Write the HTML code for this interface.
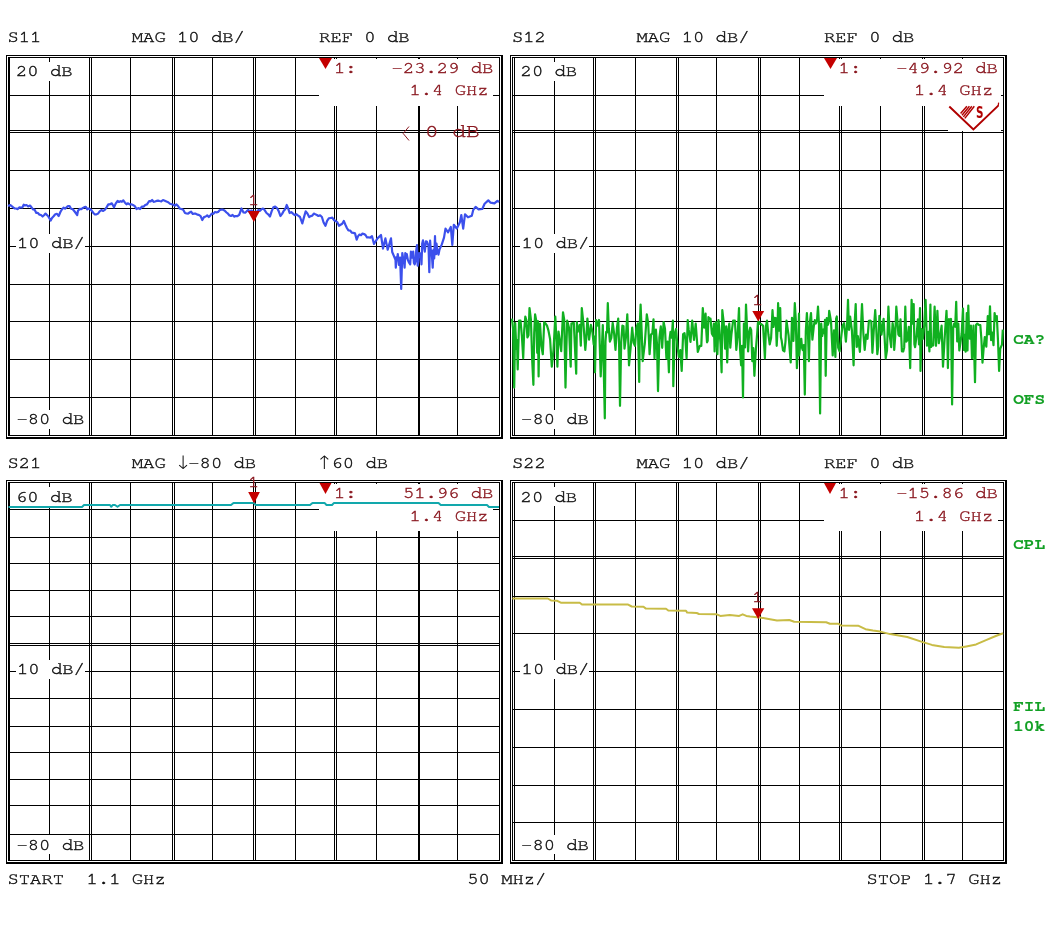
<!DOCTYPE html>
<html><head><meta charset="utf-8"><title>S-parameter display</title>
<style>
html,body{margin:0;padding:0;background:#fff;width:1058px;height:932px;overflow:hidden}
svg{display:block}
svg text{font-family:FreeMono, 'Liberation Mono', 'Courier New', monospace;white-space:pre}
</style></head><body>
<svg width="1058" height="932" viewBox="0 0 1058 932">
<rect x="0" y="0" width="1058" height="932" fill="#fff"/>
<g shape-rendering="crispEdges">
<rect x="6" y="55" width="497" height="1" fill="#000"/>
<rect x="6" y="55" width="1" height="384" fill="#000"/>
<rect x="501" y="55" width="2" height="384" fill="#000"/>
<rect x="6" y="437" width="497" height="2" fill="#000"/>
<rect x="8" y="57" width="492" height="1" fill="#000"/>
<rect x="8" y="57" width="2" height="379" fill="#000"/>
<rect x="499" y="57" width="1" height="379" fill="#000"/>
<rect x="8" y="435" width="492" height="1" fill="#000"/>
<rect x="49" y="57" width="1" height="378" fill="#000"/>
<rect x="89" y="57" width="1" height="378" fill="#000"/>
<rect x="91" y="57" width="1" height="378" fill="#000"/>
<rect x="130" y="57" width="1" height="378" fill="#000"/>
<rect x="172" y="57" width="1" height="378" fill="#000"/>
<rect x="174" y="57" width="1" height="378" fill="#000"/>
<rect x="212" y="57" width="1" height="378" fill="#000"/>
<rect x="253" y="57" width="1" height="378" fill="#000"/>
<rect x="255" y="57" width="1" height="378" fill="#000"/>
<rect x="295" y="57" width="1" height="378" fill="#000"/>
<rect x="334" y="57" width="1" height="378" fill="#000"/>
<rect x="336" y="57" width="1" height="378" fill="#000"/>
<rect x="376" y="57" width="1" height="378" fill="#000"/>
<rect x="418" y="57" width="1" height="378" fill="#000"/>
<rect x="419" y="57" width="1" height="378" fill="#000"/>
<rect x="457" y="57" width="1" height="378" fill="#000"/>
<rect x="8" y="95" width="491" height="1" fill="#000"/>
<rect x="8" y="130" width="491" height="1" fill="#000"/>
<rect x="8" y="132" width="491" height="1" fill="#000"/>
<rect x="8" y="170" width="491" height="1" fill="#000"/>
<rect x="8" y="208" width="491" height="1" fill="#000"/>
<rect x="8" y="246" width="491" height="1" fill="#000"/>
<rect x="8" y="284" width="491" height="1" fill="#000"/>
<rect x="8" y="321" width="491" height="1" fill="#000"/>
<rect x="8" y="359" width="491" height="1" fill="#000"/>
<rect x="8" y="397" width="491" height="1" fill="#000"/>
<rect x="510" y="55" width="497" height="1" fill="#000"/>
<rect x="510" y="55" width="1" height="384" fill="#000"/>
<rect x="1005" y="55" width="2" height="384" fill="#000"/>
<rect x="510" y="437" width="497" height="2" fill="#000"/>
<rect x="512" y="57" width="492" height="1" fill="#000"/>
<rect x="512" y="57" width="1" height="379" fill="#000"/>
<rect x="1003" y="57" width="1" height="379" fill="#000"/>
<rect x="512" y="435" width="492" height="1" fill="#000"/>
<rect x="514" y="57" width="1" height="378" fill="#000"/>
<rect x="554" y="57" width="1" height="378" fill="#000"/>
<rect x="593" y="57" width="1" height="378" fill="#000"/>
<rect x="595" y="57" width="1" height="378" fill="#000"/>
<rect x="635" y="57" width="1" height="378" fill="#000"/>
<rect x="676" y="57" width="1" height="378" fill="#000"/>
<rect x="678" y="57" width="1" height="378" fill="#000"/>
<rect x="716" y="57" width="1" height="378" fill="#000"/>
<rect x="758" y="57" width="1" height="378" fill="#000"/>
<rect x="760" y="57" width="1" height="378" fill="#000"/>
<rect x="799" y="57" width="1" height="378" fill="#000"/>
<rect x="839" y="57" width="1" height="378" fill="#000"/>
<rect x="841" y="57" width="1" height="378" fill="#000"/>
<rect x="880" y="57" width="1" height="378" fill="#000"/>
<rect x="922" y="57" width="1" height="378" fill="#000"/>
<rect x="924" y="57" width="1" height="378" fill="#000"/>
<rect x="962" y="57" width="1" height="378" fill="#000"/>
<rect x="512" y="95" width="491" height="1" fill="#000"/>
<rect x="512" y="130" width="491" height="1" fill="#000"/>
<rect x="512" y="132" width="491" height="1" fill="#000"/>
<rect x="512" y="170" width="491" height="1" fill="#000"/>
<rect x="512" y="208" width="491" height="1" fill="#000"/>
<rect x="512" y="246" width="491" height="1" fill="#000"/>
<rect x="512" y="284" width="491" height="1" fill="#000"/>
<rect x="512" y="321" width="491" height="1" fill="#000"/>
<rect x="512" y="359" width="491" height="1" fill="#000"/>
<rect x="512" y="397" width="491" height="1" fill="#000"/>
<rect x="6" y="480" width="497" height="1" fill="#000"/>
<rect x="6" y="480" width="1" height="384" fill="#000"/>
<rect x="501" y="480" width="2" height="384" fill="#000"/>
<rect x="6" y="862" width="497" height="2" fill="#000"/>
<rect x="8" y="482" width="492" height="1" fill="#000"/>
<rect x="8" y="482" width="2" height="379" fill="#000"/>
<rect x="499" y="482" width="1" height="379" fill="#000"/>
<rect x="8" y="860" width="492" height="1" fill="#000"/>
<rect x="49" y="482" width="1" height="378" fill="#000"/>
<rect x="89" y="482" width="1" height="378" fill="#000"/>
<rect x="91" y="482" width="1" height="378" fill="#000"/>
<rect x="130" y="482" width="1" height="378" fill="#000"/>
<rect x="172" y="482" width="1" height="378" fill="#000"/>
<rect x="174" y="482" width="1" height="378" fill="#000"/>
<rect x="212" y="482" width="1" height="378" fill="#000"/>
<rect x="253" y="482" width="1" height="378" fill="#000"/>
<rect x="255" y="482" width="1" height="378" fill="#000"/>
<rect x="295" y="482" width="1" height="378" fill="#000"/>
<rect x="334" y="482" width="1" height="378" fill="#000"/>
<rect x="336" y="482" width="1" height="378" fill="#000"/>
<rect x="376" y="482" width="1" height="378" fill="#000"/>
<rect x="418" y="482" width="1" height="378" fill="#000"/>
<rect x="419" y="482" width="1" height="378" fill="#000"/>
<rect x="457" y="482" width="1" height="378" fill="#000"/>
<rect x="8" y="509" width="491" height="1" fill="#000"/>
<rect x="8" y="537" width="491" height="1" fill="#000"/>
<rect x="8" y="563" width="491" height="1" fill="#000"/>
<rect x="8" y="590" width="491" height="1" fill="#000"/>
<rect x="8" y="616" width="491" height="1" fill="#000"/>
<rect x="8" y="643" width="491" height="1" fill="#000"/>
<rect x="8" y="645" width="491" height="1" fill="#000"/>
<rect x="8" y="671" width="491" height="1" fill="#000"/>
<rect x="8" y="698" width="491" height="1" fill="#000"/>
<rect x="8" y="726" width="491" height="1" fill="#000"/>
<rect x="8" y="752" width="491" height="1" fill="#000"/>
<rect x="8" y="779" width="491" height="1" fill="#000"/>
<rect x="8" y="805" width="491" height="1" fill="#000"/>
<rect x="8" y="834" width="491" height="1" fill="#000"/>
<rect x="510" y="480" width="497" height="1" fill="#000"/>
<rect x="510" y="480" width="1" height="384" fill="#000"/>
<rect x="1005" y="480" width="2" height="384" fill="#000"/>
<rect x="510" y="862" width="497" height="2" fill="#000"/>
<rect x="512" y="482" width="492" height="1" fill="#000"/>
<rect x="512" y="482" width="1" height="379" fill="#000"/>
<rect x="1003" y="482" width="1" height="379" fill="#000"/>
<rect x="512" y="860" width="492" height="1" fill="#000"/>
<rect x="514" y="482" width="1" height="378" fill="#000"/>
<rect x="554" y="482" width="1" height="378" fill="#000"/>
<rect x="593" y="482" width="1" height="378" fill="#000"/>
<rect x="595" y="482" width="1" height="378" fill="#000"/>
<rect x="635" y="482" width="1" height="378" fill="#000"/>
<rect x="676" y="482" width="1" height="378" fill="#000"/>
<rect x="678" y="482" width="1" height="378" fill="#000"/>
<rect x="716" y="482" width="1" height="378" fill="#000"/>
<rect x="758" y="482" width="1" height="378" fill="#000"/>
<rect x="760" y="482" width="1" height="378" fill="#000"/>
<rect x="799" y="482" width="1" height="378" fill="#000"/>
<rect x="839" y="482" width="1" height="378" fill="#000"/>
<rect x="841" y="482" width="1" height="378" fill="#000"/>
<rect x="880" y="482" width="1" height="378" fill="#000"/>
<rect x="922" y="482" width="1" height="378" fill="#000"/>
<rect x="924" y="482" width="1" height="378" fill="#000"/>
<rect x="962" y="482" width="1" height="378" fill="#000"/>
<rect x="512" y="520" width="491" height="1" fill="#000"/>
<rect x="512" y="556" width="491" height="1" fill="#000"/>
<rect x="512" y="558" width="491" height="1" fill="#000"/>
<rect x="512" y="596" width="491" height="1" fill="#000"/>
<rect x="512" y="633" width="491" height="1" fill="#000"/>
<rect x="512" y="671" width="491" height="1" fill="#000"/>
<rect x="512" y="709" width="491" height="1" fill="#000"/>
<rect x="512" y="747" width="491" height="1" fill="#000"/>
<rect x="512" y="785" width="491" height="1" fill="#000"/>
<rect x="512" y="822" width="491" height="1" fill="#000"/>
<rect x="12" y="62" width="74" height="19" fill="#fff"/>
<rect x="16" y="234" width="69" height="19" fill="#fff"/>
<rect x="13" y="410" width="73" height="19" fill="#fff"/>
<rect x="319" y="59" width="174" height="47" fill="#fff"/>
<rect x="12" y="487" width="74" height="19" fill="#fff"/>
<rect x="16" y="660" width="69" height="19" fill="#fff"/>
<rect x="13" y="835" width="73" height="19" fill="#fff"/>
<rect x="319" y="484" width="174" height="47" fill="#fff"/>
<rect x="516" y="62" width="74" height="19" fill="#fff"/>
<rect x="520" y="234" width="69" height="19" fill="#fff"/>
<rect x="517" y="410" width="73" height="19" fill="#fff"/>
<rect x="824" y="59" width="174" height="47" fill="#fff"/>
<rect x="516" y="487" width="74" height="19" fill="#fff"/>
<rect x="520" y="660" width="69" height="19" fill="#fff"/>
<rect x="517" y="835" width="73" height="19" fill="#fff"/>
<rect x="824" y="484" width="174" height="47" fill="#fff"/>
<rect x="948" y="59" width="53" height="72" fill="#fff"/>
</g>
<g>
<polyline points="8.0,206.0 10.3,205.0 11.7,206.2 13.2,207.4 14.6,208.4 16.0,208.5 17.8,209.1 19.5,207.3 20.9,207.5 22.3,207.5 23.7,204.7 25.1,205.4 26.5,205.0 28.2,206.5 30.0,205.6 31.5,207.3 33.0,209.3 34.5,209.6 36.3,213.0 37.9,212.9 39.5,214.7 41.0,215.0 42.6,216.5 44.0,215.2 45.5,213.6 48.0,216.0 50.7,220.5 52.0,218.0 53.6,216.3 55.3,214.2 57.0,213.8 58.7,216.0 60.5,211.8 62.2,209.0 63.7,207.7 65.1,208.6 66.5,207.4 68.0,206.0 69.5,206.1 71.1,208.8 72.6,209.0 75.0,212.0 77.2,215.0 78.0,210.8 79.7,208.9 81.3,209.2 83.0,207.9 84.4,207.1 85.8,206.9 87.3,209.3 88.7,208.5 90.3,209.2 91.8,210.8 93.4,213.0 94.9,214.5 96.5,214.4 98.0,213.6 99.7,211.3 101.4,210.0 103.2,211.0 105.0,209.6 106.7,207.1 108.3,204.4 110.0,204.3 111.8,203.3 114.0,207.3 115.8,203.4 117.6,201.0 119.0,202.0 120.4,201.2 121.9,201.8 123.3,200.4 125.0,202.7 126.5,204.3 128.1,203.3 129.6,204.4 131.3,204.3 133.0,205.0 134.8,206.1 136.5,209.0 138.2,208.1 140.0,209.0 141.8,206.7 143.5,206.7 145.2,205.0 147.0,204.4 149.2,201.0 150.6,201.4 152.1,200.0 153.6,201.8 155.0,201.5 156.5,200.9 158.1,200.7 159.6,201.0 161.3,201.3 163.0,200.0 164.8,200.7 166.5,201.5 168.2,202.2 170.0,203.8 171.7,204.3 173.4,204.8 174.9,205.7 176.5,204.4 178.0,206.0 179.8,208.7 181.5,209.0 183.2,209.8 185.0,213.0 186.5,213.5 188.1,213.6 189.6,212.5 191.1,211.6 192.7,214.0 194.2,213.6 195.7,213.7 197.3,214.6 198.8,214.8 200.6,216.1 202.3,220.0 204.0,217.1 205.7,216.5 207.2,215.3 208.8,217.0 210.3,215.4 211.9,213.5 213.4,213.8 215.0,212.0 216.5,212.5 218.1,211.9 219.6,210.2 221.3,209.5 223.0,209.6 224.8,210.7 226.5,212.5 228.0,213.7 229.5,215.5 231.0,216.0 232.6,215.0 234.1,216.6 235.7,216.0 237.4,216.2 239.2,214.8 241.5,208.5 243.5,212.5 245.2,212.7 247.0,211.0 248.4,210.0 249.8,212.6 251.2,210.5 252.6,211.4 254.0,212.0 255.5,211.7 257.0,211.9 258.5,209.8 260.0,210.8 261.5,209.2 263.0,208.5 264.8,210.3 266.5,213.0 268.2,214.3 270.0,216.5 271.7,211.1 273.4,207.3 275.2,206.6 277.0,208.0 278.7,211.1 280.4,216.0 282.1,213.9 283.8,210.8 285.2,209.2 286.7,205.0 288.1,208.1 289.6,213.0 291.3,212.1 293.0,213.6 294.8,215.2 296.5,214.2 298.2,215.7 300.0,217.0 302.3,223.4 304.0,217.1 305.7,211.3 307.4,213.5 309.2,217.0 310.7,216.1 312.3,215.6 313.8,213.6 315.3,214.3 316.9,215.0 318.4,216.0 320.1,215.3 321.9,217.0 323.6,222.5 325.4,225.8 327.1,220.8 328.8,218.3 330.6,218.0 332.3,217.7 334.0,220.2 335.7,221.0 337.4,222.4 339.0,225.8 340.6,224.8 342.2,223.8 343.8,221.0 345.3,224.5 346.9,228.0 348.4,230.4 350.1,230.5 351.9,232.7 353.4,232.9 355.0,233.4 356.7,239.6 358.1,236.1 359.5,234.5 361.0,235.2 362.5,233.6 364.0,234.0 365.5,235.0 367.0,237.5 368.5,237.3 370.2,237.7 372.0,236.2 374.0,244.0 377.5,238.4 381.0,235.0 383.0,248.6 385.4,238.4 387.7,249.7 391.0,238.4 392.2,252.0 395.5,259.8 395.8,267.7 396.5,257.2 397.1,259.0 397.8,254.0 398.9,264.8 400.1,257.5 401.2,289.0 402.3,253.0 403.1,258.1 403.8,259.4 404.6,267.7 405.3,253.0 406.1,258.2 406.8,254.2 407.9,260.1 409.1,262.7 410.2,264.3 410.9,251.5 411.7,254.9 412.4,257.6 413.2,251.5 413.9,263.0 414.7,264.3 415.5,261.1 416.2,250.7 417.0,245.2 417.7,265.7 418.5,261.2 419.2,253.0 420.0,254.4 420.7,253.5 421.5,264.3 422.2,243.5 423.0,240.3 423.7,245.2 424.8,251.6 425.9,241.3 427.0,241.8 427.8,244.2 428.5,245.3 429.3,272.2 430.1,240.7 430.8,250.2 431.6,250.8 432.7,267.7 433.5,249.7 434.2,258.5 435.0,236.2 435.5,251.4 436.0,254.1 436.5,243.6 437.5,251.0 438.5,254.6 439.5,249.6 441.8,244.4 444.0,237.6 445.5,228.6 448.1,232.3 450.8,227.0 452.3,245.0 453.8,224.8 456.8,228.6 459.8,222.6 461.3,215.0 463.2,228.6 465.0,214.3 468.0,217.3 471.8,215.8 473.3,209.8 475.6,206.8 478.6,209.4 482.3,209.0 484.6,203.8 488.3,200.4 490.6,202.7 494.4,203.4 497.4,200.8 499.0,202.0" fill="none" stroke="#3c50ec" stroke-width="2.2" stroke-linejoin="round"/>
<polyline points="512.0,318.6 513.1,329.0 514.2,387.6 515.2,323.1 516.3,348.6 517.0,340.1 517.7,369.5 519.1,320.5 520.5,320.7 521.9,336.2 523.2,358.3 524.2,330.4 525.3,316.5 526.3,320.0 527.4,337.4 528.5,335.3 529.5,308.0 530.9,319.3 532.3,362.5 533.4,384.8 534.2,332.7 535.1,314.4 536.2,320.4 537.2,352.8 537.9,321.1 538.6,376.5 539.3,332.4 540.0,323.5 541.4,346.1 542.8,354.2 544.2,322.2 545.6,323.5 547.0,325.6 548.4,330.4 550.1,339.3 551.8,366.7 553.5,350.2 555.3,316.5 556.3,337.6 557.4,366.7 558.5,331.5 559.5,338.8 561.2,351.2 563.0,312.3 564.2,319.6 565.5,387.6 566.4,347.2 567.2,320.7 569.0,327.8 570.7,366.7 571.4,323.5 573.8,322.9 576.2,373.7 576.9,322.0 577.6,331.8 578.7,328.5 579.7,324.9 580.8,345.7 581.8,308.1 583.5,324.1 585.3,350.0 586.3,337.8 587.4,318.6 589.1,339.7 590.9,324.9 592.3,330.7 593.7,344.4 594.4,336.6 595.0,372.3 596.1,320.1 597.2,325.6 599.0,320.0 600.7,376.5 602.8,325.0 604.8,418.3 605.5,341.1 606.2,331.8 607.0,332.5 607.8,303.2 608.8,328.7 609.9,341.6 611.3,337.9 612.7,322.8 614.1,333.4 615.5,350.0 616.9,328.2 618.2,318.6 619.1,345.0 620.0,405.8 621.2,341.8 622.4,325.6 623.5,326.3 624.5,348.6 625.9,337.5 627.3,314.4 628.1,335.9 629.0,365.3 630.6,347.8 632.2,327.7 633.6,342.8 635.0,345.8 636.4,327.8 637.8,323.5 638.5,351.3 639.2,382.0 639.9,322.0 640.6,304.6 641.7,332.2 642.7,361.1 644.8,343.7 646.8,314.4 648.2,323.2 649.6,354.2 651.0,334.6 652.4,333.2 653.5,319.3 654.5,358.3 655.2,340.7 655.9,329.7 657.0,344.0 658.0,391.1 659.4,337.5 660.8,326.3 662.2,347.8 663.6,322.0 665.0,328.7 666.4,358.3 667.6,341.6 668.9,372.3 669.7,338.2 670.5,331.8 671.7,337.7 672.9,320.7 673.3,386.2 674.7,333.5 676.1,329.0 677.5,346.6 678.9,357.0 680.3,350.1 681.7,370.9 683.1,334.1 684.5,333.2 685.5,340.6 686.6,358.3 687.7,320.1 688.7,329.7 690.5,341.9 692.2,320.7 694.0,340.0 695.7,323.5 697.8,351.8 699.8,345.8 701.3,345.9 702.8,308.1 704.2,327.7 705.6,313.7 706.3,331.1 707.0,342.3 707.7,340.7 708.4,317.2 709.5,318.8 710.5,318.6 711.9,333.7 713.2,336.0 713.9,323.7 714.6,351.4 716.0,322.0 717.4,354.2 718.5,320.0 719.5,330.4 720.5,344.1 721.6,372.3 722.3,310.2 723.7,322.4 725.1,348.6 726.2,326.4 727.2,362.5 728.2,331.3 729.3,323.5 730.3,347.6 731.4,334.6 733.1,320.7 734.9,320.7 735.6,333.3 736.3,350.0 737.6,336.7 739.0,308.1 740.0,348.0 741.1,365.3 742.0,345.9 743.0,397.4 743.9,323.5 745.0,347.4 746.0,304.6 747.0,327.5 748.1,351.4 749.2,332.1 750.2,327.7 751.2,330.2 752.3,361.1 753.3,348.1 754.4,375.8 755.8,350.6 757.2,333.2 757.9,323.1 758.6,321.4 760.0,324.0 761.4,324.2 763.1,325.9 764.9,358.3 766.0,325.9 767.0,320.7 768.4,334.5 769.7,344.4 771.1,338.0 772.5,310.2 773.5,326.9 774.6,317.9 775.7,318.1 776.7,345.8 777.4,332.2 778.1,303.2 779.2,330.6 780.2,308.1 780.9,337.3 781.6,340.2 783.0,350.4 784.4,351.4 785.5,341.5 786.5,320.7 788.6,335.5 790.7,362.5 791.4,339.0 792.0,317.9 793.4,341.0 794.8,303.2 795.8,319.8 796.9,368.1 798.0,348.6 799.0,313.7 799.2,355.5 800.2,344.5 801.3,338.8 802.0,347.7 802.7,350.0 803.8,345.1 804.8,394.6 805.8,331.3 806.9,313.0 807.9,331.6 808.9,361.1 810.0,321.5 811.0,313.0 812.4,339.6 813.8,326.3 814.8,320.1 815.9,323.5 817.0,320.3 818.0,306.7 819.0,325.1 820.1,413.4 821.2,323.5 822.2,336.0 823.2,329.6 824.3,333.2 825.0,319.8 825.7,375.8 826.8,318.0 827.8,324.9 828.5,323.1 829.2,310.9 831.0,321.4 832.7,355.5 834.0,330.4 835.4,357.0 836.1,318.9 836.8,316.5 838.2,347.7 839.6,351.4 841.0,338.9 842.4,326.3 844.1,323.1 845.9,341.6 847.0,326.6 848.0,299.8 849.0,329.8 850.1,316.5 851.9,330.4 853.6,365.3 854.7,322.2 855.7,304.0 856.8,346.9 857.8,336.0 859.9,351.8 862.0,304.0 863.4,333.8 864.7,350.0 866.1,334.5 867.5,338.8 868.9,320.9 870.3,320.7 871.3,321.5 872.4,352.8 873.8,329.6 875.2,310.2 876.2,327.0 877.3,354.2 878.3,346.2 879.4,315.8 880.5,323.5 881.5,334.6 883.6,318.8 885.7,358.3 887.0,350.3 888.4,306.7 889.8,336.0 891.2,347.2 892.6,323.0 894.0,333.2 894.2,350.0 895.2,336.5 896.3,306.7 897.3,318.9 898.4,334.6 899.5,336.0 900.5,319.3 901.9,351.3 903.2,351.4 904.2,347.4 905.3,306.7 906.3,341.7 907.4,340.2 908.8,326.9 910.2,368.1 910.9,330.5 911.6,299.8 912.7,323.7 913.7,304.0 914.4,344.2 915.1,347.2 916.5,336.1 917.9,319.3 919.0,344.5 920.0,308.1 920.5,370.9 921.6,329.2 922.8,338.8 924.2,325.6 925.6,299.8 927.0,345.6 928.4,331.8 929.4,351.5 930.4,304.6 931.1,347.0 931.8,345.8 933.2,345.4 934.6,306.7 936.0,345.8 937.4,310.9 938.8,343.2 940.2,336.0 941.6,325.7 943.0,366.7 944.8,335.6 946.5,310.9 947.2,330.1 947.9,368.1 949.0,319.0 950.0,320.7 951.0,318.9 952.1,404.4 953.2,327.5 954.2,323.5 955.2,326.8 956.2,301.9 957.2,341.5 958.3,323.5 959.3,350.5 960.4,343.0 961.7,333.2 963.0,308.6 963.8,349.9 964.5,334.6 965.6,351.6 966.8,313.0 967.5,350.5 968.3,305.6 969.0,330.4 969.8,338.6 970.9,325.5 972.0,358.2 973.5,325.7 975.0,382.2 976.1,324.7 977.3,323.6 978.8,324.9 980.3,325.1 981.4,339.2 982.5,362.7 983.6,348.6 984.8,337.1 986.3,346.6 987.8,316.1 988.9,334.3 990.0,306.3 991.1,340.2 992.3,332.6 993.5,345.2 994.6,313.0 995.7,320.9 996.8,316.1 998.0,340.5 999.1,370.9 1000.2,348.9 1001.3,346.1 1002.0,344.6 1002.8,329.6" fill="none" stroke="#10b020" stroke-width="2.2" stroke-linejoin="round"/>
<polyline points="8.5,506.9 82.0,506.9 84.0,505.0 110.0,505.0 111.3,506.8 112.6,505.0 115.0,505.0 117.5,506.8 120.0,505.0 231.0,505.0 233.5,502.9 254.0,502.9 255.5,505.0 310.0,505.0 312.5,502.9 324.5,502.9 326.5,505.0 332.0,505.0 334.0,502.9 438.5,502.9 440.8,505.0 487.0,505.0 489.0,507.0 499.0,507.0" fill="none" stroke="#12a8ac" stroke-width="2" stroke-linejoin="round"/>
<polyline points="512.4,598.5 547.8,598.5 551.4,600.6 557.3,600.8 560.8,602.7 579.7,602.7 582.0,604.6 628.1,604.6 631.7,606.5 643.5,606.7 645.9,608.6 666.0,608.8 668.3,610.5 686.0,610.7 687.2,612.6 696.7,613.0 699.0,614.0 716.8,614.3 720.3,615.9 729.8,615.0 739.2,615.9 742.7,614.3 746.3,615.9 750.0,616.4 759.8,617.4 767.2,618.8 777.0,620.6 789.3,620.0 794.2,621.8 826.2,622.3 829.9,623.7 838.5,623.7 841.0,625.5 858.1,625.7 865.5,629.2 872.9,630.6 880.3,631.6 890.1,634.1 907.3,637.0 922.0,641.9 931.9,644.9 944.2,647.1 958.9,647.8 966.3,646.4 976.1,644.4 986.0,640.2 995.8,636.0 1003.1,633.3" fill="none" stroke="#c8bc46" stroke-width="2" stroke-linejoin="round"/>
</g>
<g>
<polygon points="247.7,211 259.9,211 253.79999999999998,222" fill="#c40000"/>
<polygon points="752.3,311 764.2,311 758.25,321.5" fill="#c40000"/>
<polygon points="248.2,492 259.9,492 254.04999999999998,503.6" fill="#c40000"/>
<polygon points="752,608.3 764.3,608.3 758.15,619" fill="#c40000"/>
<polygon points="319,58 332,58 325.5,69" fill="#c40000"/>
<polygon points="824,58 837,58 830.5,69" fill="#c40000"/>
<polygon points="319.5,483 331.5,483 325.5,494" fill="#c40000"/>
<polygon points="824,483 836,483 830.0,494" fill="#c40000"/>
<text x="248" y="205" font-size="16" fill="#8a1820" stroke="#8a1820" stroke-width="0.4" textLength="11.3" lengthAdjust="spacingAndGlyphs">1</text>
<text x="752" y="305" font-size="16" fill="#8a1820" stroke="#8a1820" stroke-width="0.4" textLength="11.3" lengthAdjust="spacingAndGlyphs">1</text>
<text x="248" y="487" font-size="16" fill="#8a1820" stroke="#8a1820" stroke-width="0.4" textLength="11.3" lengthAdjust="spacingAndGlyphs">1</text>
<text x="752" y="601.7" font-size="16" fill="#8a1820" stroke="#8a1820" stroke-width="0.4" textLength="11.3" lengthAdjust="spacingAndGlyphs">1</text>
</g>
<g>
<text x="7.5" y="42" font-size="16" fill="#111" stroke="#111" stroke-width="0.4" textLength="33.9" lengthAdjust="spacingAndGlyphs">S11</text>
<text x="131.8" y="42" font-size="16" fill="#111" stroke="#111" stroke-width="0.4" textLength="113.0" lengthAdjust="spacingAndGlyphs">MAG 10 dB/</text>
<text x="319.1" y="42" font-size="16" fill="#111" stroke="#111" stroke-width="0.4" textLength="90.4" lengthAdjust="spacingAndGlyphs">REF 0 dB</text>
<text x="512" y="42" font-size="16" fill="#111" stroke="#111" stroke-width="0.4" textLength="33.9" lengthAdjust="spacingAndGlyphs">S12</text>
<text x="636.5" y="42" font-size="16" fill="#111" stroke="#111" stroke-width="0.4" textLength="113.0" lengthAdjust="spacingAndGlyphs">MAG 10 dB/</text>
<text x="824" y="42" font-size="16" fill="#111" stroke="#111" stroke-width="0.4" textLength="90.4" lengthAdjust="spacingAndGlyphs">REF 0 dB</text>
<text x="174.6" y="468.5" font-size="18.5" font-weight="200" fill="#111" style="font-family:'DejaVu Sans', 'Liberation Sans', sans-serif" textLength="17.7" lengthAdjust="spacingAndGlyphs">↓</text>
<text x="315.8" y="468.6" font-size="18.5" font-weight="200" fill="#111" style="font-family:'DejaVu Sans', 'Liberation Sans', sans-serif" textLength="17.7" lengthAdjust="spacingAndGlyphs">↑</text>
<text x="7.5" y="468" font-size="16" fill="#111" stroke="#111" stroke-width="0.4" textLength="33.9" lengthAdjust="spacingAndGlyphs">S21</text>
<text x="131.8" y="468" font-size="16" fill="#111" stroke="#111" stroke-width="0.4" textLength="33.9" lengthAdjust="spacingAndGlyphs">MAG</text>
<text x="188.3" y="468" font-size="16" fill="#111" stroke="#111" stroke-width="0.4" textLength="67.8" lengthAdjust="spacingAndGlyphs">-80 dB</text>
<text x="331.5" y="468" font-size="16" fill="#111" stroke="#111" stroke-width="0.4" textLength="56.5" lengthAdjust="spacingAndGlyphs">60 dB</text>
<text x="512" y="468" font-size="16" fill="#111" stroke="#111" stroke-width="0.4" textLength="33.9" lengthAdjust="spacingAndGlyphs">S22</text>
<text x="636.5" y="468" font-size="16" fill="#111" stroke="#111" stroke-width="0.4" textLength="113.0" lengthAdjust="spacingAndGlyphs">MAG 10 dB/</text>
<text x="824" y="468" font-size="16" fill="#111" stroke="#111" stroke-width="0.4" textLength="90.4" lengthAdjust="spacingAndGlyphs">REF 0 dB</text>
<text x="7.5" y="884" font-size="16" fill="#111" stroke="#111" stroke-width="0.4" textLength="158.2" lengthAdjust="spacingAndGlyphs">START  1.1 GHz</text>
<text x="467.3" y="884" font-size="16" fill="#111" stroke="#111" stroke-width="0.4" textLength="79.1" lengthAdjust="spacingAndGlyphs">50 MHz/</text>
<text x="866.5" y="884" font-size="16" fill="#111" stroke="#111" stroke-width="0.4" textLength="135.6" lengthAdjust="spacingAndGlyphs">STOP 1.7 GHz</text>
<text x="16" y="76" font-size="16" fill="#111" stroke="#111" stroke-width="0.4" textLength="56.5" lengthAdjust="spacingAndGlyphs">20 dB</text>
<text x="17" y="248" font-size="16" fill="#111" stroke="#111" stroke-width="0.4" textLength="67.8" lengthAdjust="spacingAndGlyphs">10 dB/</text>
<text x="16.5" y="424" font-size="16" fill="#111" stroke="#111" stroke-width="0.4" textLength="67.8" lengthAdjust="spacingAndGlyphs">-80 dB</text>
<text x="520.6" y="76" font-size="16" fill="#111" stroke="#111" stroke-width="0.4" textLength="56.5" lengthAdjust="spacingAndGlyphs">20 dB</text>
<text x="521.6" y="248" font-size="16" fill="#111" stroke="#111" stroke-width="0.4" textLength="67.8" lengthAdjust="spacingAndGlyphs">10 dB/</text>
<text x="521.1" y="424" font-size="16" fill="#111" stroke="#111" stroke-width="0.4" textLength="67.8" lengthAdjust="spacingAndGlyphs">-80 dB</text>
<text x="16" y="502" font-size="16" fill="#111" stroke="#111" stroke-width="0.4" textLength="56.5" lengthAdjust="spacingAndGlyphs">60 dB</text>
<text x="520.6" y="502" font-size="16" fill="#111" stroke="#111" stroke-width="0.4" textLength="56.5" lengthAdjust="spacingAndGlyphs">20 dB</text>
<text x="17" y="674" font-size="16" fill="#111" stroke="#111" stroke-width="0.4" textLength="67.8" lengthAdjust="spacingAndGlyphs">10 dB/</text>
<text x="16.5" y="850" font-size="16" fill="#111" stroke="#111" stroke-width="0.4" textLength="67.8" lengthAdjust="spacingAndGlyphs">-80 dB</text>
<text x="521.6" y="674" font-size="16" fill="#111" stroke="#111" stroke-width="0.4" textLength="67.8" lengthAdjust="spacingAndGlyphs">10 dB/</text>
<text x="521.1" y="850" font-size="16" fill="#111" stroke="#111" stroke-width="0.4" textLength="67.8" lengthAdjust="spacingAndGlyphs">-80 dB</text>
<text x="334" y="73" font-size="16" fill="#8a1820" stroke="#8a1820" stroke-width="0.4" textLength="22.6" lengthAdjust="spacingAndGlyphs">1:</text>
<text x="391.6" y="73" font-size="16" fill="#8a1820" stroke="#8a1820" stroke-width="0.4" textLength="101.7" lengthAdjust="spacingAndGlyphs">-23.29 dB</text>
<text x="409.5" y="95" font-size="16" fill="#8a1820" stroke="#8a1820" stroke-width="0.4" textLength="79.1" lengthAdjust="spacingAndGlyphs">1.4 GHz</text>
<text x="838.6" y="73" font-size="16" fill="#8a1820" stroke="#8a1820" stroke-width="0.4" textLength="22.6" lengthAdjust="spacingAndGlyphs">1:</text>
<text x="896.2" y="73" font-size="16" fill="#8a1820" stroke="#8a1820" stroke-width="0.4" textLength="101.7" lengthAdjust="spacingAndGlyphs">-49.92 dB</text>
<text x="914.1" y="95" font-size="16" fill="#8a1820" stroke="#8a1820" stroke-width="0.4" textLength="79.1" lengthAdjust="spacingAndGlyphs">1.4 GHz</text>
<text x="334" y="498" font-size="16" fill="#8a1820" stroke="#8a1820" stroke-width="0.4" textLength="22.6" lengthAdjust="spacingAndGlyphs">1:</text>
<text x="402.9" y="498" font-size="16" fill="#8a1820" stroke="#8a1820" stroke-width="0.4" textLength="90.4" lengthAdjust="spacingAndGlyphs">51.96 dB</text>
<text x="409.5" y="520.5" font-size="16" fill="#8a1820" stroke="#8a1820" stroke-width="0.4" textLength="79.1" lengthAdjust="spacingAndGlyphs">1.4 GHz</text>
<text x="838.6" y="498" font-size="16" fill="#8a1820" stroke="#8a1820" stroke-width="0.4" textLength="22.6" lengthAdjust="spacingAndGlyphs">1:</text>
<text x="896.2" y="498" font-size="16" fill="#8a1820" stroke="#8a1820" stroke-width="0.4" textLength="101.7" lengthAdjust="spacingAndGlyphs">-15.86 dB</text>
<text x="914.1" y="520.5" font-size="16" fill="#8a1820" stroke="#8a1820" stroke-width="0.4" textLength="79.1" lengthAdjust="spacingAndGlyphs">1.4 GHz</text>
<polyline points="409,126.5 403.2,133.5 409,140.5" fill="none" stroke="#8a1820" stroke-width="1"/>
<text x="425" y="136.5" font-size="19" fill="#8a1820" stroke="#8a1820" stroke-width="0.4" textLength="54.6" lengthAdjust="spacingAndGlyphs">0 dB</text>
<text x="1013.2" y="344" font-size="14.5" fill="#12a024" font-weight="bold" stroke="#12a024" stroke-width="0.15" textLength="31.8" lengthAdjust="spacingAndGlyphs">CA?</text>
<text x="1013.2" y="404" font-size="14.5" fill="#12a024" font-weight="bold" stroke="#12a024" stroke-width="0.15" textLength="31.8" lengthAdjust="spacingAndGlyphs">OFS</text>
<text x="1013.2" y="548.5" font-size="14.5" fill="#12a024" font-weight="bold" stroke="#12a024" stroke-width="0.15" textLength="31.8" lengthAdjust="spacingAndGlyphs">CPL</text>
<text x="1013.2" y="711" font-size="14.5" fill="#12a024" font-weight="bold" stroke="#12a024" stroke-width="0.15" textLength="31.8" lengthAdjust="spacingAndGlyphs">FIL</text>
<text x="1013.2" y="731" font-size="14.5" fill="#12a024" font-weight="bold" stroke="#12a024" stroke-width="0.15" textLength="31.8" lengthAdjust="spacingAndGlyphs">10k</text>
</g>
<g fill="none" stroke="#b00000" stroke-width="2" stroke-linecap="butt">
<polyline points="949.3,106.6 973.4,129.4 998.3,105.6"/>
</g>
<g stroke="#b00000" stroke-width="1.5">
<line x1="960.6" y1="113.6" x2="966.9" y2="106.3"/>
<line x1="962.0" y1="115.3" x2="969.4" y2="106.3"/>
<line x1="963.4" y1="116.9" x2="971.8" y2="106.3"/>
<line x1="964.8" y1="118.4" x2="974.3" y2="106.3"/>
</g>
<line x1="998.6" y1="102.6" x2="998.2" y2="106" stroke="#b00000" stroke-width="1.2"/>
<text x="976" y="117.8" font-size="16" font-weight="bold" fill="#b00000" style="font-family:'DejaVu Sans', sans-serif" textLength="7.5" lengthAdjust="spacingAndGlyphs">S</text>
</svg>
</body></html>
